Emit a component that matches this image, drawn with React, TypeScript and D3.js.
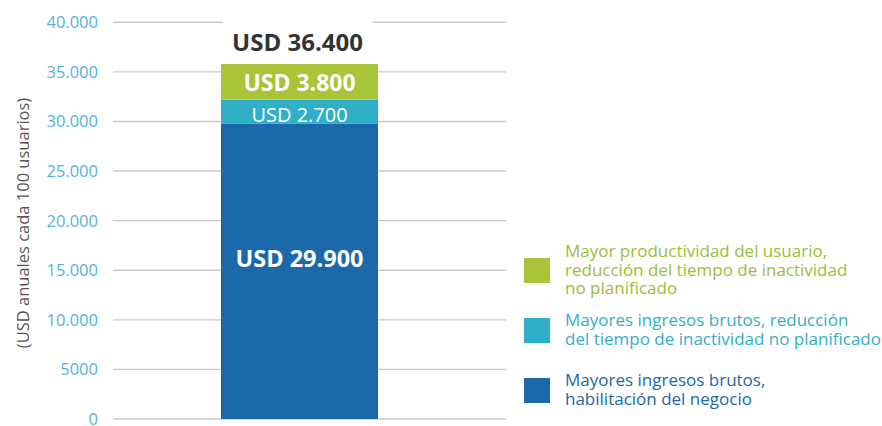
import React from "react";
import * as d3 from "d3";

// segments, bottom to top (heights)
const segments = ["negocio", "inactividad", "productividad"];
const segmentValues = [29800, 2400, 3600];
const segmentLabels = ["USD 29.900", "USD 2.700", "USD 3.800"];
const segmentColors = ["#1b68aa", "#30afc8", "#a8c53a"];
const totalLabel = "USD 36.400";

const yTicks = [0, 5000, 10000, 15000, 20000, 25000, 30000, 35000, 40000];
const yTickLabels = ["0", "5000", "10.000", "15.000", "20.000", "25.000", "30.000", "35.000", "40.000"];

const legendItems = [
  { lines: ["Mayor productividad del usuario,", "reducción del tiempo de inactividad", "no planificado"], color: "#a8c53a", text: "#9cbd3a" },
  { lines: ["Mayores ingresos brutos, reducción", "del tiempo de inactividad no planificado"], color: "#30afc8", text: "#35adc9" },
  { lines: ["Mayores ingresos brutos,", "habilitación del negocio"], color: "#1b68aa", text: "#2067a8" },
];

const width = 882;
const height = 426;
const font = "'Open Sans', sans-serif";

export default function App() {
  const y = d3.scaleLinear().domain([0, 40000]).range([419, 22.3]);
  const x = d3.scaleBand().domain(["total"]).range([113, 486]).paddingInner(0).paddingOuter(0.688);
  const bx = x("total") as number;
  const bw = x.bandwidth();
  const cx = bx + bw / 2;

  const stacked = d3.cumsum(segmentValues);
  const bars = segmentValues.map((v, i) => ({
    key: segments[i],
    y0: stacked[i] - v,
    y1: stacked[i],
    color: segmentColors[i],
    label: segmentLabels[i],
  }));

  const legendY = [258, 318, 378];

  return (
    <svg width={width} height={height} style={{ position: "absolute", left: 0, top: 0, background: "#fff" }}>
      {/* gridlines */}
      {yTicks.map((t) => (
        <line key={t} x1={113} x2={506} y1={y(t)} y2={y(t)} stroke="#c9c9c9" strokeWidth={1.4} />
      ))}
      {yTicks.map((t, i) => (
        <text key={"l" + t} x={98} y={y(t)} dy="0.36em" textAnchor="end" fontFamily={font} fontSize={16.5} fill="#55b0e2">
          {yTickLabels[i]}
        </text>
      ))}

      <text
        transform={`translate(29, 223) rotate(-90)`}
        textAnchor="middle"
        fontFamily={font}
        fontSize={16.5}
        fill="#555"
      >
        (USD anuales cada 100 usuarios)
      </text>

      {/* white box behind the total */}
      <rect x={bx + 2} y={14} width={bw - 7} height={44} fill="#fff" />

      {bars.map((b) => (
        <rect key={b.key} x={bx} width={bw} y={y(b.y1)} height={y(b.y0) - y(b.y1)} fill={b.color} />
      ))}

      {/* segment labels */}
      <text x={cx} y={267} textAnchor="middle" fontFamily={font} fontWeight="bold" fontSize={23.5} fill="#fff">
        {bars[0].label}
      </text>
      <text x={cx} y={121.5} textAnchor="middle" fontFamily={font} fontSize={20} fill="#fff">
        {bars[1].label}
      </text>
      <text x={cx} y={90.5} textAnchor="middle" fontFamily={font} fontWeight="bold" fontSize={23} fill="#fff">
        {bars[2].label}
      </text>
      <text x={cx - 2} y={51} textAnchor="middle" fontFamily={font} fontWeight="bold" fontSize={24} fill="#333">
        {totalLabel}
      </text>

      {/* legend */}
      {legendItems.map((item, i) => {
        const top = legendY[i];
        const n = item.lines.length;
        const first = top + 12.5 + 5 - ((n - 1) * 18.5) / 2;
        return (
          <g key={i}>
            <rect x={524} y={top} width={26} height={25} fill={item.color} />
            {item.lines.map((l, j) => (
              <text key={j} x={565} y={first + j * 18.5} fontFamily={font} fontSize={17} fill={item.text}>
                {l}
              </text>
            ))}
          </g>
        );
      })}
    </svg>
  );
}
